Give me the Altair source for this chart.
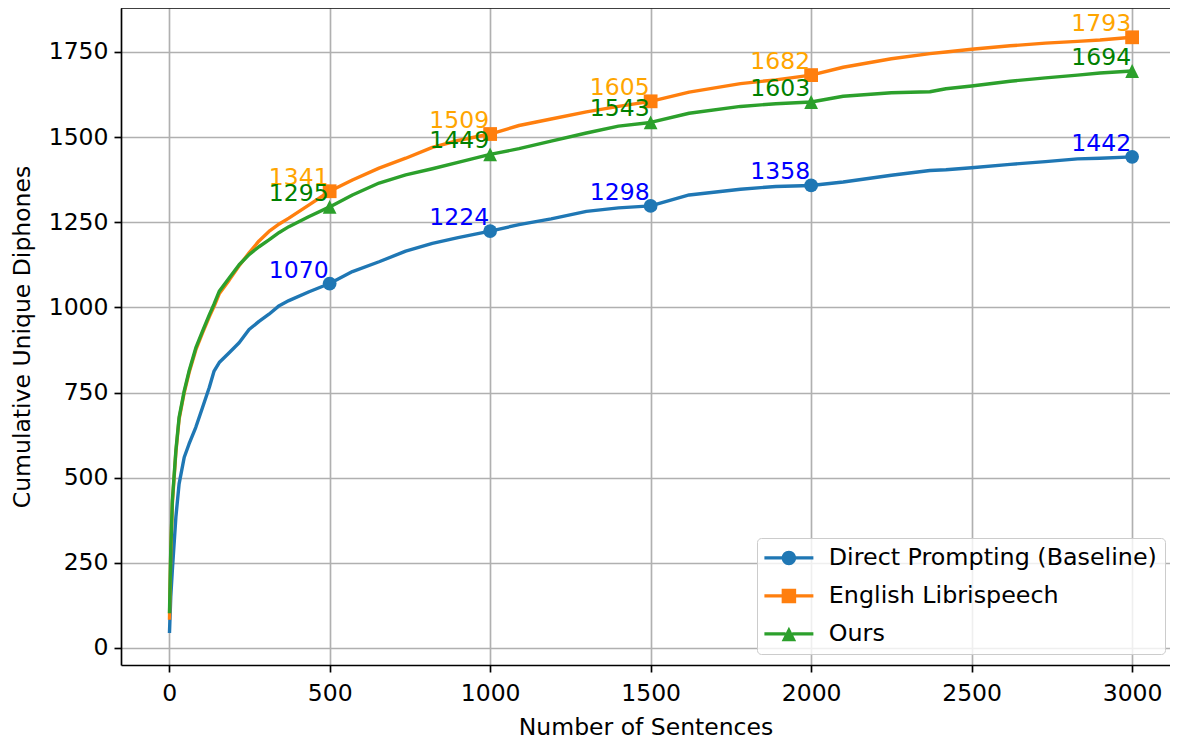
import altair as alt
import pandas as pd

# ---------------- data ----------------
series_names = ["Direct Prompting (Baseline)", "English Librispeech", "Ours"]
line_colors = ["#1f77b4", "#ff7f0e", "#2ca02c"]
label_colors = ["#0000ff", "#ffa500", "#008000"]

x_sent = [1, 5, 10, 21, 31, 47, 62, 83, 104, 125, 140, 156, 187, 218, 249, 280, 311, 343, 373, 436,
          500, 571, 654, 737, 820, 900, 1000, 1090, 1190, 1300, 1400, 1500, 1620,
          1780, 1890, 2000, 2100, 2250, 2370, 2420, 2500, 2620, 2730, 2830, 2900, 3000]

baseline = [44, 150, 229, 385, 482, 560, 599, 648, 706, 765, 813, 838, 867, 896, 935, 959, 980, 1005, 1020, 1046,
            1070, 1105, 1134, 1165, 1188, 1205, 1224, 1243, 1260, 1282, 1292, 1298, 1330,
            1347, 1355, 1358, 1368, 1388, 1402, 1404, 1410, 1420, 1428, 1436, 1438, 1442]

librispeech = [83, 280, 425, 575, 672, 750, 808, 875, 925, 972, 1003, 1040, 1080, 1122, 1160, 1195, 1223, 1245, 1262, 1301,
               1341, 1374, 1409, 1438, 1470, 1490, 1509, 1534, 1553, 1574, 1590, 1605, 1632,
               1657, 1668, 1682, 1705, 1730, 1745, 1750, 1758, 1768, 1776, 1781, 1785, 1793]

ours = [102, 287, 433, 580, 677, 755, 813, 881, 930, 978, 1010, 1047, 1086, 1125, 1155, 1178, 1198, 1220, 1237, 1267,
        1295, 1330, 1365, 1389, 1407, 1426, 1449, 1466, 1488, 1512, 1532, 1543, 1570,
        1590, 1598, 1603, 1620, 1630, 1633, 1642, 1650, 1664, 1674, 1682, 1688, 1694]

marker_x = [500, 1000, 1500, 2000, 3000]
baseline_marks = [1070, 1224, 1298, 1358, 1442]
librispeech_marks = [1341, 1509, 1605, 1682, 1793]
ours_marks = [1295, 1449, 1543, 1603, 1694]

x_ticks = [0, 500, 1000, 1500, 2000, 2500, 3000]
y_ticks = [0, 250, 500, 750, 1000, 1250, 1500, 1750]

# ---------------- marker / legend symbol shapes ----------------
tri = "M0,-1L1,1L-1,1Z"
marker_shapes = ["circle", "square", tri]

t = 0.23
L = 3.38
seg = lambda a: f"M{-L},{-t}L{-a},{-t}L{-a},{t}L{-L},{t}ZM{a},{-t}L{L},{-t}L{L},{t}L{a},{t}Z"
leg_circle = seg(0.95) + "M1,0A1,1 0 1,1 -1,0A1,1 0 1,1 1,0Z"
leg_square = seg(0.95) + "M-1,-1L1,-1L1,1L-1,1Z"
leg_tri = seg(0.45) + tri
legend_shapes = [leg_circle, leg_square, leg_tri]

# ---------------- tables ----------------
line_rows = []
for name, vals, lc in zip(series_names, [baseline, librispeech, ours], line_colors):
    for xv, yv in zip(x_sent, vals):
        line_rows.append({"series": name, "x": xv, "y": yv, "lcolor": lc})
lines_df = pd.DataFrame(line_rows)

mark_rows = []
for name, vals, tc, lc, shp in zip(series_names, [baseline_marks, librispeech_marks, ours_marks],
                                   label_colors, line_colors, marker_shapes):
    for xv, yv in zip(marker_x, vals):
        mark_rows.append({"series": name, "x": xv, "y": yv, "label": str(yv),
                          "tcolor": tc, "lcolor": lc, "mshape": shp})
marks_df = pd.DataFrame(mark_rows)

legend_df = pd.DataFrame({"series": pd.Series([], dtype=str),
                          "x": pd.Series([], dtype=float),
                          "y": pd.Series([], dtype=float)})

# ---------------- scales ----------------
W, H = 1049, 657
FS = 23.5
x_scale = alt.Scale(domain=[-150, 3118], nice=False, zero=False)
y_scale = alt.Scale(domain=[-50, 1879], nice=False, zero=False)

x_enc = alt.X("x:Q", scale=x_scale,
              axis=alt.Axis(values=x_ticks, title="Number of Sentences", format="d",
                            labelPadding=9, titlePadding=11))
y_enc = alt.Y("y:Q", scale=y_scale,
              axis=alt.Axis(values=y_ticks, title="Cumulative Unique Diphones", format="d",
                            labelPadding=6, titlePadding=14))

legend_props = dict(title=None, orient="none", legendX=636, legendY=530,
                    symbolSize=210, symbolOpacity=1, symbolStrokeWidth=0,
                    symbolOffset=12, labelOffset=28, rowPadding=13,
                    padding=8, labelFont="DejaVu Sans", labelFontSize=23.8,
                    labelColor="#000000", fillColor="rgba(255,255,255,0.8)",
                    strokeColor="#cccccc", cornerRadius=4, labelLimit=500)

lines = alt.Chart(lines_df).mark_line(strokeWidth=3.4, strokeJoin="round").encode(
    x=x_enc, y=y_enc,
    color=alt.Color("lcolor:N", scale=None),
    detail="series:N",
)

points = alt.Chart(marks_df).mark_point(filled=True, size=190, opacity=1, strokeWidth=1.5).encode(
    x=x_enc, y=y_enc,
    color=alt.Color("lcolor:N", scale=None),
    shape=alt.Shape("mshape:N", scale=None),
)

labels = alt.Chart(marks_df).mark_text(
    align="right", baseline="alphabetic", dx=-1, dy=-6, font="DejaVu Sans", fontSize=FS
).encode(
    x=x_enc, y=y_enc, text="label:N",
    color=alt.Color("tcolor:N", scale=None),
)

legend_layer = alt.Chart(legend_df).mark_point(filled=True, size=210).encode(
    x=x_enc, y=y_enc,
    color=alt.Color("series:N", scale=alt.Scale(domain=series_names, range=line_colors),
                    legend=alt.Legend(**legend_props)),
    shape=alt.Shape("series:N", scale=alt.Scale(domain=series_names, range=legend_shapes),
                    legend=alt.Legend(**legend_props)),
)

frame_df = pd.DataFrame({"k": [0]})
top_spine = alt.Chart(frame_df).mark_rule(color="#000000", strokeWidth=1.67).encode(
    x=alt.value(0), x2=alt.value(W), y=alt.value(0)
)

chart = alt.layer(lines, points, labels, legend_layer, top_spine).properties(
    width=W, height=H,
    autosize=alt.AutoSizeParams(type="none"),
    padding={"left": 113, "top": 0, "right": 0, "bottom": 73},
).configure_view(strokeWidth=0).configure_axis(
    grid=True, gridColor="#b0b0b0", gridWidth=1.67,
    domainColor="#000000", domainWidth=1.67,
    tickColor="#000000", tickWidth=1.67, tickSize=7,
    labelFont="DejaVu Sans", labelFontSize=FS, labelColor="#000000",
    titleFont="DejaVu Sans", titleFontSize=FS, titleFontWeight="normal", titleColor="#000000",
)

chart.save("out.html", embed_options={"renderer": "svg", "actions": False})
